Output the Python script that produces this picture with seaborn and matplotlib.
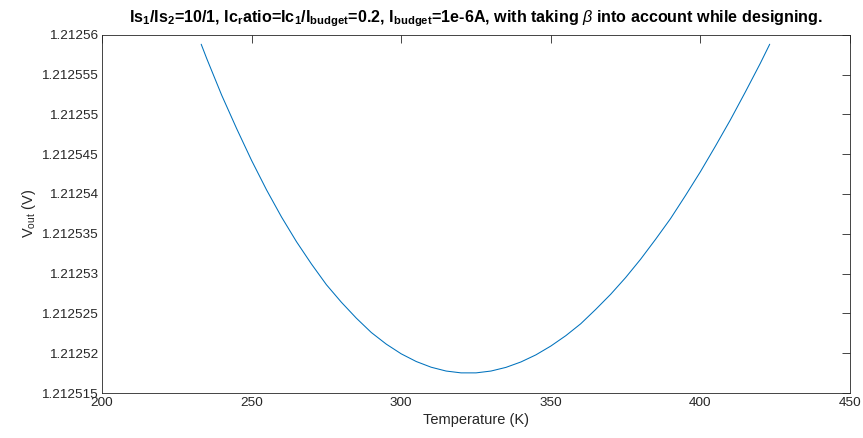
import matplotlib
matplotlib.use("Agg")
import matplotlib.pyplot as plt
from matplotlib.ticker import FixedLocator, FuncFormatter
import seaborn as sns
import pandas as pd

# Temperature sweep (K) and simulated output voltage (V)
temperature = [233.15, 235, 240, 245, 250, 255, 260, 265, 270, 275, 280, 285,
               290, 295, 300, 305, 310, 315, 320, 325, 330, 335, 340, 345,
               350, 355, 360, 365, 370, 375, 380, 385, 390, 395, 400, 405,
               410, 415, 420, 423.15]
vout = [1.2125588, 1.2125570, 1.2125524, 1.2125482, 1.2125442, 1.2125405,
        1.2125371, 1.2125340, 1.2125312, 1.2125286, 1.2125264, 1.2125244,
        1.2125226, 1.21252114, 1.21251992, 1.21251896, 1.21251824, 1.21251776,
        1.21251753, 1.21251753, 1.21251776, 1.21251822, 1.21251890, 1.21251979,
        1.21252090, 1.2125222, 1.2125237, 1.2125255, 1.2125274, 1.2125295,
        1.2125318, 1.2125343, 1.2125369, 1.2125398, 1.2125428, 1.2125460,
        1.2125493, 1.2125528, 1.2125564, 1.2125588]

x_ticks = [200, 250, 300, 350, 400, 450]
y_ticks = [1.212515, 1.21252, 1.212525, 1.21253, 1.212535, 1.21254,
           1.212545, 1.21255, 1.212555, 1.21256]

title_text = (r"Is$_1$/Is$_2$=10/1, Ic$_r$atio=Ic$_1$/I$_{budget}$=0.2, "
              r"I$_{budget}$=1e-6A, with taking $\mathit{\beta}$ into account while designing.")

sns.set_theme(style="white")
plt.rcParams["font.family"] = ["Liberation Sans", "DejaVu Sans"]
plt.rcParams["mathtext.fontset"] = "custom"
plt.rcParams["mathtext.default"] = "regular"
plt.rcParams["mathtext.it"] = "Liberation Sans:italic"
plt.rcParams["mathtext.rm"] = "Liberation Sans"

ink = "#262626"
df = pd.DataFrame({"Temperature": temperature, "Vout": vout})

fig = plt.figure(figsize=(8.63, 4.38), dpi=100)
ax = fig.add_axes([0.1182, 0.1027, 0.8668, 0.8181])

sns.lineplot(data=df, x="Temperature", y="Vout", ax=ax, color="#0072BD",
             linewidth=0.75, sort=False, estimator=None)

ax.set_xlim(200, 450)
ax.set_ylim(1.212515, 1.21256)
ax.xaxis.set_major_locator(FixedLocator(x_ticks))
ax.yaxis.set_major_locator(FixedLocator(y_ticks))
ax.yaxis.set_major_formatter(FuncFormatter(lambda v, p: f"{v:.7g}"))

for side in ax.spines.values():
    side.set_visible(True)
    side.set_color(ink)
    side.set_linewidth(0.6)

ax.tick_params(axis="both", which="major", direction="in", length=5.5,
               width=0.6, color=ink, labelcolor=ink, labelsize=9.7,
               top=True, right=True, pad=3)

ax.set_xlabel("Temperature (K)", fontsize=10.5, color=ink, labelpad=3)
ax.set_ylabel(r"V$_{out}$ (V)", fontsize=10.5, color=ink, labelpad=2)
ax.set_title(title_text, fontsize=11.6, fontweight="bold", color="black", pad=9)

fig.savefig("out.png", dpi=100)
